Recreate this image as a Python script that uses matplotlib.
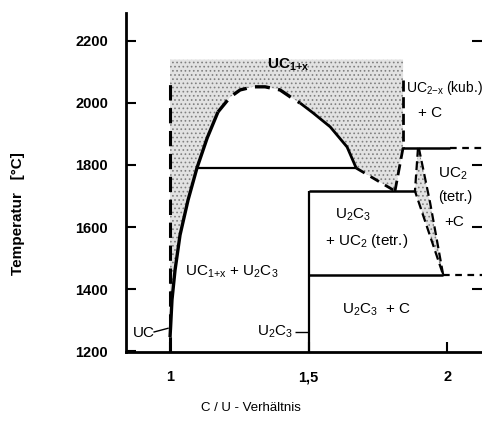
import matplotlib
matplotlib.use("Agg")
import matplotlib.pyplot as plt

plt.rcParams["font.family"] = ["Liberation Sans", "DejaVu Sans"]
plt.rcParams["mathtext.default"] = "regular"
plt.rcParams["hatch.linewidth"] = 0.7

# boundary of the UC(1+x) field, split where the line style changes
dome_left_x = [1.0, 1.007, 1.018, 1.036, 1.065, 1.097, 1.134, 1.173]
dome_left_T = [1245, 1365, 1461, 1574, 1687, 1790, 1887, 1971]
dome_top_x = [1.173, 1.217, 1.253, 1.300, 1.343, 1.397, 1.440, 1.469]
dome_top_T = [1971, 2019, 2042, 2052, 2052, 2042, 2016, 2000]
dome_right_x = [1.469, 1.516, 1.578, 1.639, 1.672]
dome_right_T = [2000, 1968, 1923, 1858, 1790]
dome_tail_x = [1.672, 1.812]
dome_tail_T = [1790, 1716]

# cubic UC2 limit and the narrow tetragonal UC2 band
kub_x = [1.841, 1.841, 1.812]
kub_T = [2075, 1855, 1716]
tetr_left_x = [1.895, 1.884, 1.986]
tetr_left_T = [1855, 1716, 1445]
tetr_right_x = [1.898, 1.939, 1.986]
tetr_right_T = [1855, 1677, 1445]

# isotherms
T_top = 2140
T_1855 = 1855
T_1790 = 1790
T_1716 = 1716
T_1445 = 1445

xticks = [1, 1.5, 2]
xticklabels = ["1", "1,5", "2"]
yticks = [1200, 1400, 1600, 1800, 2000, 2200]
right_ticks = [1400, 1600, 1800, 2200]

fig = plt.figure(figsize=(4.82, 4.28), dpi=100)
ax = fig.add_axes([126 / 482, 1 - 352 / 428, 1 - 126 / 482, (352 - 13) / 428])
ax.set_xlim(0.841, 2.126)
ax.set_ylim(1197, 2290)

stip = dict(facecolor="#e2e2e2", edgecolor="#808080", hatch="....", linewidth=0)

# stippled UC(1+x) field
shade_x = [1.0, kub_x[0], kub_x[1], kub_x[2]] + dome_tail_x[::-1][1:] + dome_right_x[::-1][1:] \
    + dome_top_x[::-1][1:] + dome_left_x[::-1][1:]
shade_T = [T_top, T_top, kub_T[1], kub_T[2]] + dome_tail_T[::-1][1:] + dome_right_T[::-1][1:] \
    + dome_top_T[::-1][1:] + dome_left_T[::-1][1:]
ax.fill(shade_x, shade_T, **stip, zorder=1)
ax.fill(tetr_left_x + tetr_right_x[::-1], tetr_left_T + tetr_right_T[::-1], **stip, zorder=1)

k = dict(color="black", solid_capstyle="butt", dash_capstyle="butt", zorder=3)
dash = (0, (4, 2))

ax.plot(dome_left_x, dome_left_T, lw=2.4, **k)
ax.plot(dome_top_x, dome_top_T, lw=2.4, linestyle=(0, (4.5, 2.5)), **k)
ax.plot(dome_right_x, dome_right_T, lw=2.0, **k)
ax.plot(dome_tail_x, dome_tail_T, lw=2.0, linestyle=(0, (3.5, 2.5)), **k)

ax.plot([1.0, 1.0], [1197, 2085], lw=2.2, linestyle=(0, (5, 2.5)), **k)
ax.plot(kub_x[:2], kub_T[:2], lw=2.0, linestyle=(0, (4, 2)), **k)
ax.plot(kub_x[1:], kub_T[1:], lw=2.0, linestyle=(0, (4, 2)), **k)
ax.plot(tetr_left_x, tetr_left_T, lw=1.6, linestyle=dash, **k)
ax.plot(tetr_right_x, tetr_right_T, lw=1.6, linestyle=dash, **k)

ax.plot([1.841, 2.01], [T_1855, T_1855], lw=1.8, **k)
ax.plot([2.01, 2.126], [T_1855, T_1855], lw=1.6, linestyle=(0, (3, 2.5)), **k)
ax.plot([1.097, 1.672], [T_1790, T_1790], lw=1.6, **k)
ax.plot([1.5, 1.884], [T_1716, T_1716], lw=1.8, **k)
ax.plot([1.5, 1.986], [T_1445, T_1445], lw=1.8, **k)
ax.plot([1.986, 2.126], [T_1445, T_1445], lw=1.6, linestyle=(0, (3, 2.5)), **k)
ax.plot([1.5, 1.5], [1197, T_1716], lw=1.6, **k)

# leader lines of the line-compound labels
ax.plot([0.94, 0.995], [1261, 1274], lw=1.0, **k)
ax.plot([1.452, 1.5], [1262, 1262], lw=1.0, **k)

labels = [
    ("UC$_{1{+}x}$", 1.426, 2123, "center", "bold", 11),
    ("UC$_{2{-}x}$ (kub.)", 1.850, 2048, "left", "normal", 10),
    ("+ C", 1.895, 1968, "left", "normal", 11),
    ("UC$_2$", 1.968, 1771, "left", "normal", 11),
    ("(tetr.)", 1.966, 1697, "left", "normal", 10.5),
    ("+C", 1.988, 1616, "left", "normal", 11),
    ("U$_2$C$_3$", 1.661, 1639, "center", "normal", 11),
    ("+ UC$_2$ (tetr.)", 1.711, 1555, "center", "normal", 11),
    ("U$_2$C$_3$  + C", 1.744, 1332, "center", "normal", 11),
    ("UC$_{1{+}x}$ + U$_2$C$_3$", 1.224, 1455, "center", "normal", 11),
    ("UC", 0.906, 1258, "center", "normal", 11),
    ("U$_2$C$_3$", 1.379, 1261, "center", "normal", 11),
]
for txt, x, T, ha, w, fs in labels:
    ax.text(x, T, txt, ha=ha, va="center", fontsize=fs, fontweight=w, zorder=4)

for s in ["top", "right"]:
    ax.spines[s].set_visible(False)
for s in ["left", "bottom"]:
    ax.spines[s].set_linewidth(2.0)

ax.set_xticks(xticks)
ax.set_xticklabels(xticklabels)
ax.set_yticks(yticks)
ax.tick_params(direction="in", length=7, width=1.5, labelsize=10.5, pad=13)
for lab in ax.get_xticklabels() + ax.get_yticklabels():
    lab.set_fontweight("bold")

ax2 = ax.twinx()
ax2.set_ylim(ax.get_ylim())
ax2.set_yticks(right_ticks)
ax2.tick_params(direction="in", length=7, width=1.5, labelright=False)
for s in ax2.spines.values():
    s.set_visible(False)

fig.text(18 / 482, 1 - 214 / 428, "Temperatur   [°C]", rotation=90, ha="center", va="center",
         fontsize=11, fontweight="bold")
fig.text(251 / 482, 1 - 408 / 428, "C / U - Verhältnis", ha="center", va="center", fontsize=9.5)

fig.savefig("out.png", dpi=100)
